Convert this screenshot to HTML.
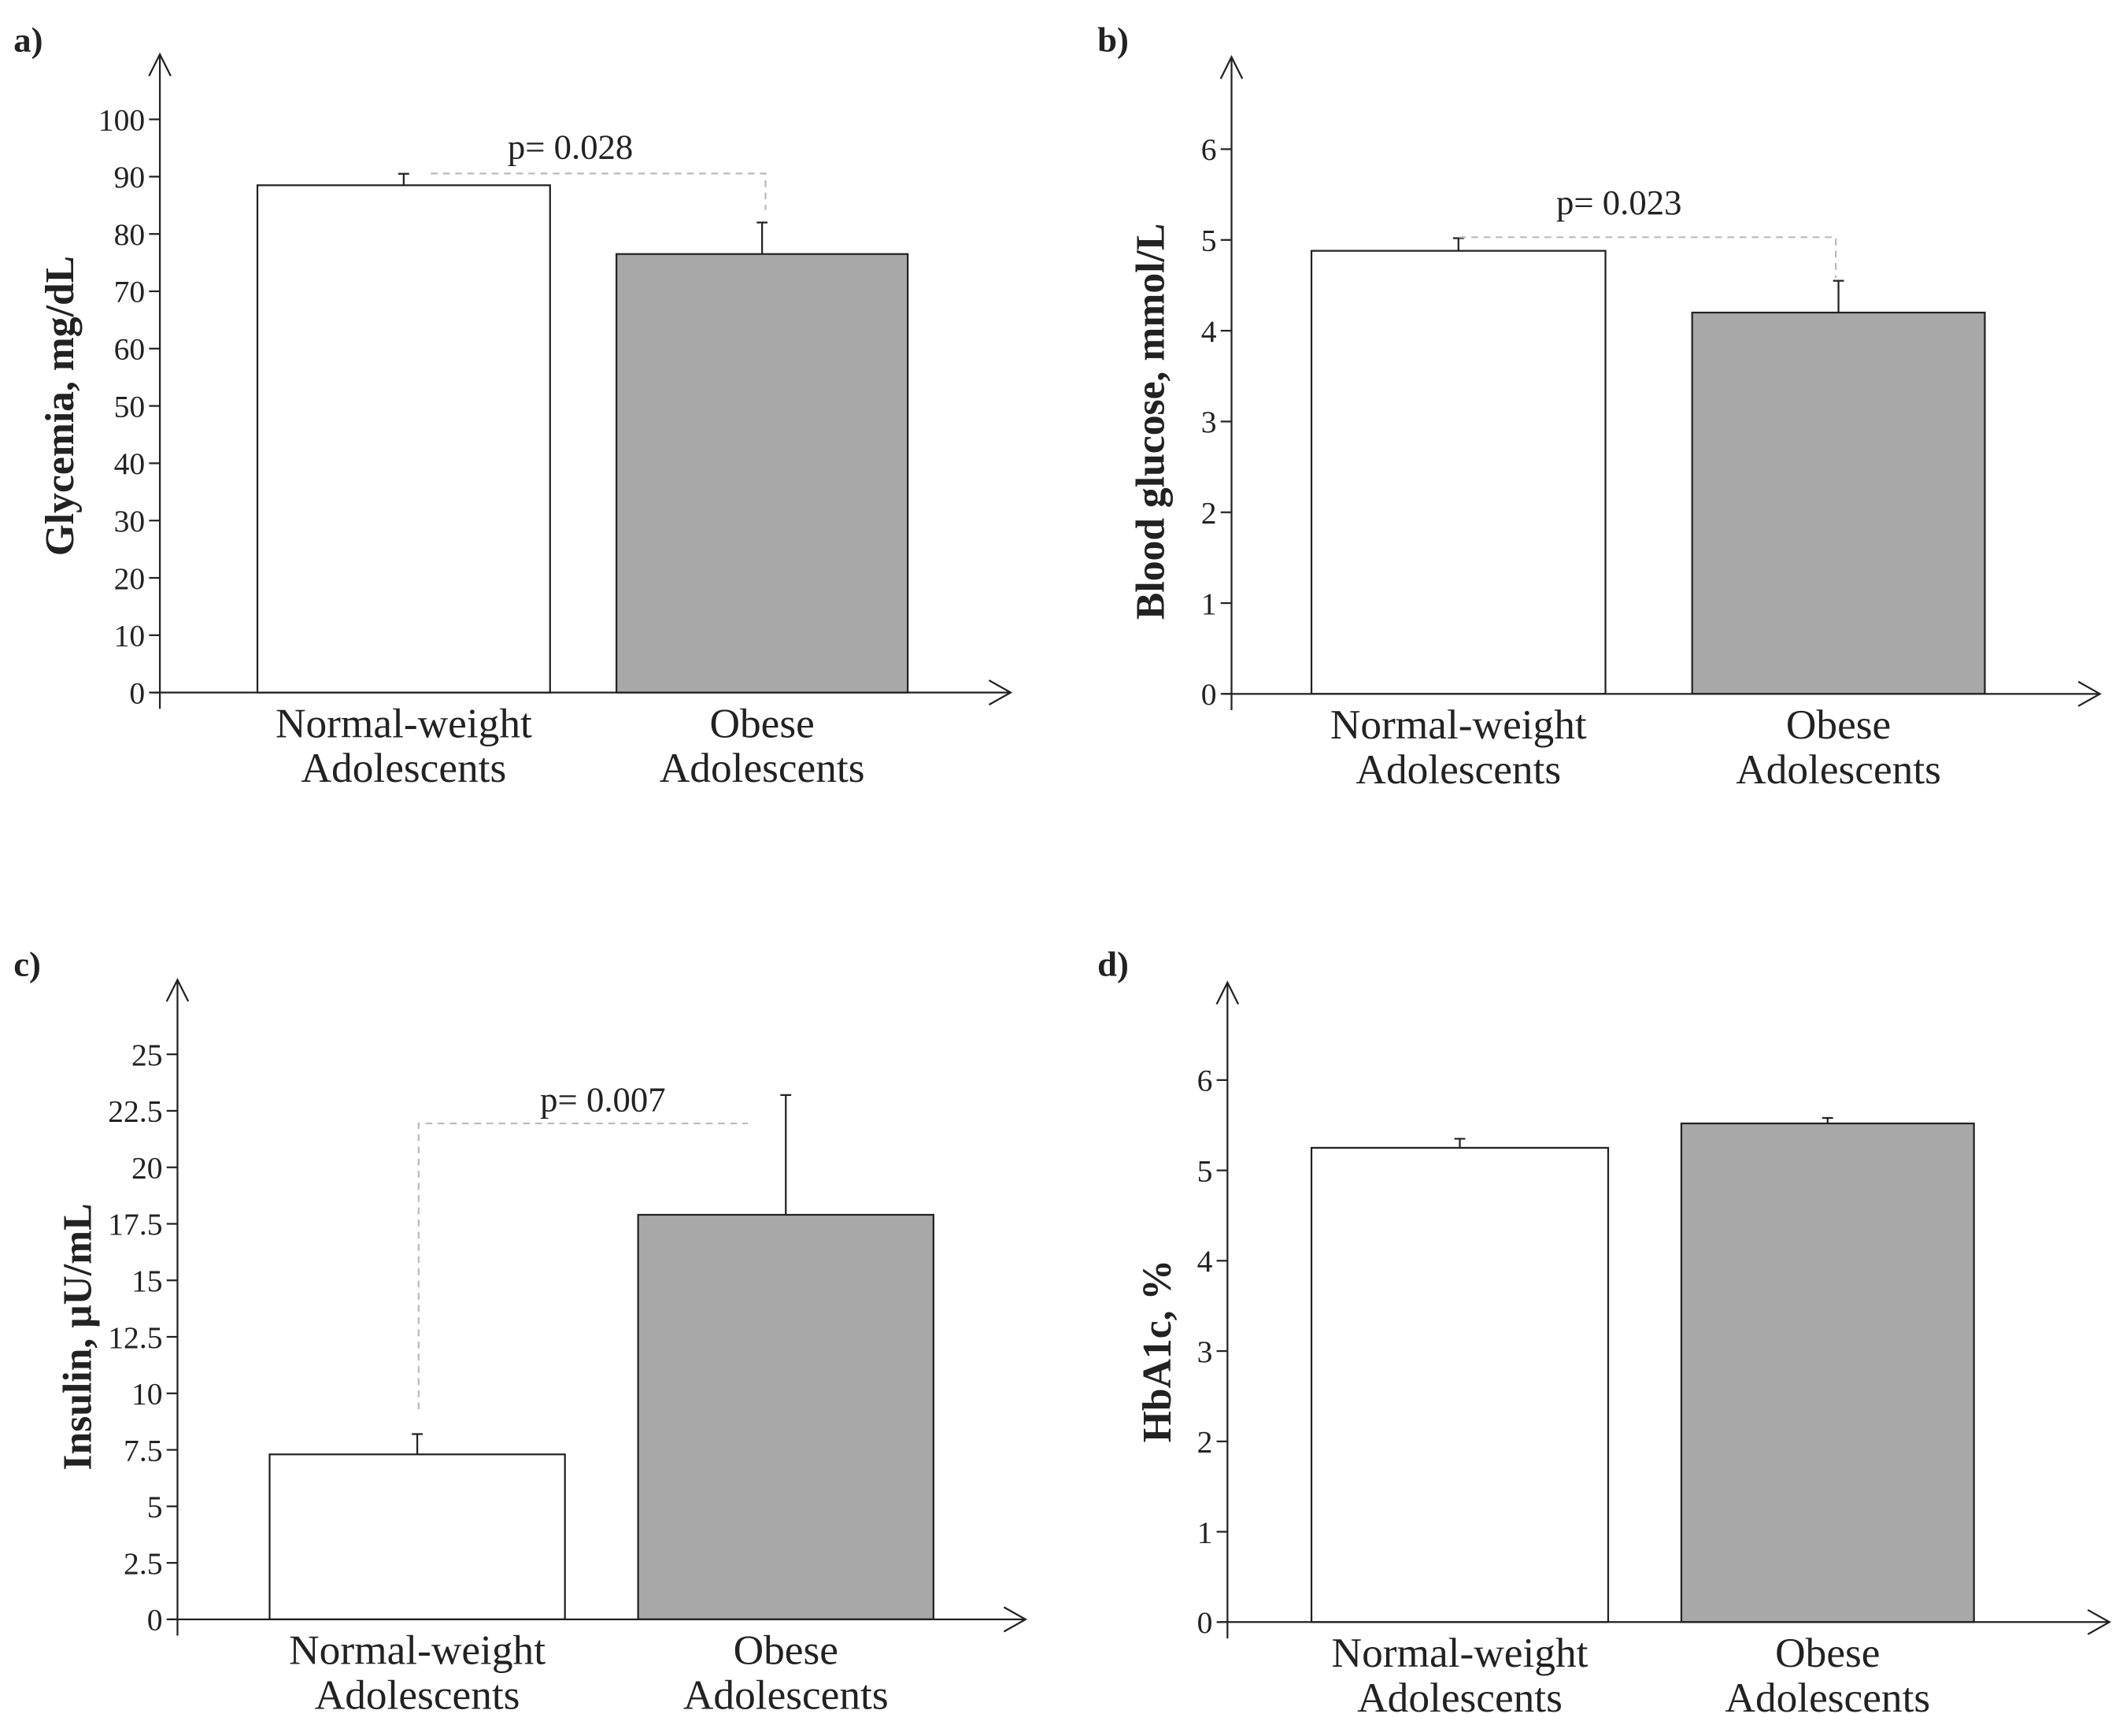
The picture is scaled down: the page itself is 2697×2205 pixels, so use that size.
<!DOCTYPE html>
<html><head><meta charset="utf-8"><style>
html,body{margin:0;padding:0;background:#fff}
svg{display:block}
text{font-family:"Liberation Serif",serif;fill:#222}
</style></head><body>
<svg id="fig" width="2697" height="2205" viewBox="0 0 1567 1281" xmlns="http://www.w3.org/2000/svg"></svg>
<script>
const categories = [["Normal-weight","Adolescents"],["Obese","Adolescents"]];
const aValues = [88.5, 76.5];
const aErrors = [90.5, 82];
const aTicks = [0,10,20,30,40,50,60,70,80,90,100];
const bValues = [4.88, 4.2];
const bErrors = [5.02, 4.55];
const bTicks = [0,1,2,3,4,5,6];
const cValues = [7.3, 17.9];
const cErrors = [8.2, 23.2];
const cTicks = [0,2.5,5,7.5,10,12.5,15,17.5,20,22.5,25];
const dValues = [5.25, 5.52];
const dErrors = [5.35, 5.58];
const dTicks = [0,1,2,3,4,5,6];
const pLabels = ["p= 0.028","p= 0.023","p= 0.007"];

const NS="http://www.w3.org/2000/svg";
const svg=document.getElementById('fig');
function mk(tag,attrs,parent){const e=document.createElementNS(NS,tag);for(const k in attrs)e.setAttribute(k,attrs[k]);(parent||svg).appendChild(e);return e;}

const panels=[
 {id:'a',label:'a)',lx:10,ly:38,ax:118,y0:511,tickMax:100,yMax:88,top:40,right:746,bars:[[190,406],[455,670]],vals:aValues,errs:aErrors,ticks:aTicks,title:'Glycemia, mg/dL',tx:54,p:{text:pLabels[0],type:'right',y:128,x1:318,x2:565,down:155,tx:421,ty:117}},
 {id:'b',label:'b)',lx:810,ly:38,ax:909,y0:512,tickMax:6,yMax:110,top:42,right:1550,bars:[[968,1185],[1249,1465]],vals:bValues,errs:bErrors,ticks:bTicks,title:'Blood glucose, mmol/L',tx:859,p:{text:pLabels[1],type:'right',y:175,x1:1077,x2:1355,down:205,tx:1195,ty:158}},
 {id:'c',label:'c)',lx:10,ly:720,ax:131,y0:1195,tickMax:25,yMax:778,top:723,right:757,bars:[[199,417],[471,689]],vals:cValues,errs:cErrors,ticks:cTicks,title:'Insulin, \u03BCU/mL',tx:67,p:{text:pLabels[2],type:'left',y:829,x1:309,x2:552,down:1040,tx:445,ty:820}},
 {id:'d',label:'d)',lx:810,ly:720,ax:906,y0:1197,tickMax:6,yMax:797,top:725,right:1557,bars:[[968,1187],[1241,1457]],vals:dValues,errs:dErrors,ticks:dTicks,title:'HbA1c, %',tx:864,p:null}
];

panels.forEach(P=>{
 const g=mk('g',{});
 
 
 const y=v=>P.y0-(P.y0-P.yMax)*v/P.tickMax;
 const lab=mk('text',{x:P.lx,y:P.ly,'font-size':26,'font-weight':'bold'},g);lab.textContent=P.label;
 
 
 P.vals.forEach((v,i)=>{
  const [x1,x2]=P.bars[i];
  const r=mk('rect',{x:x1,y:y(v),width:x2-x1,height:P.y0-y(v),fill:i?'#a8a8a8':'#fff',stroke:'#222','stroke-width':1.3},g);
  
  
  const cx=(x1+x2)/2;
  const e=mk('path',{d:`M${cx},${y(v)}V${y(P.errs[i])}M${cx-4},${y(P.errs[i])}H${cx+4}`,stroke:'#222','stroke-width':1.3,fill:'none'},g);
  
  
  categories[i].forEach((t,k)=>{
   const tt=mk('text',{x:cx,y:P.y0+33+k*33,'font-size':31,'text-anchor':'middle'},g);tt.textContent=t;
   
   
  });
 });
 const ya=mk('path',{d:`M${P.ax},${P.y0+12}V${P.top}M${P.ax-8},${P.top+16}L${P.ax},${P.top}L${P.ax+8},${P.top+16}`,stroke:'#222','stroke-width':1.3,fill:'none'},g);
 
 
 const xa=mk('path',{d:`M${P.ax-6},${P.y0}H${P.right}M${P.right-16},${P.y0-9}L${P.right},${P.y0}L${P.right-16},${P.y0+9}`,stroke:'#222','stroke-width':1.3,fill:'none'},g);
 
 
 P.ticks.forEach(t=>{
  mk('line',{x1:P.ax-8,x2:P.ax,y1:y(t),y2:y(t),stroke:'#222','stroke-width':1.3},g);
  const tl=mk('text',{x:P.ax-11,y:y(t)+8,'font-size':23,'text-anchor':'end'},g);tl.textContent=t;
  
  
 });
 const cy=(P.y0+P.yMax)/2;
 const ti=mk('text',{x:P.tx,y:cy,'font-size':30,'font-weight':'bold','text-anchor':'middle',transform:`rotate(-90 ${P.tx} ${cy})`},g);ti.textContent=P.title;
 
 
 if(P.p){
  const q=P.p;
  const d=q.type==='right'?`M${q.x1},${q.y}H${q.x2}V${q.down}`:`M${q.x1},${q.down}V${q.y}H${q.x2}`;
  const br=mk('path',{d,stroke:'#bbb','stroke-width':1.3,'stroke-dasharray':'5,4',fill:'none'},g);
  
  
  const pt=mk('text',{x:q.tx,y:q.ty,'font-size':26,'text-anchor':'middle'},g);pt.textContent=q.text;
  
  
 }
});
</script>
</body></html>
